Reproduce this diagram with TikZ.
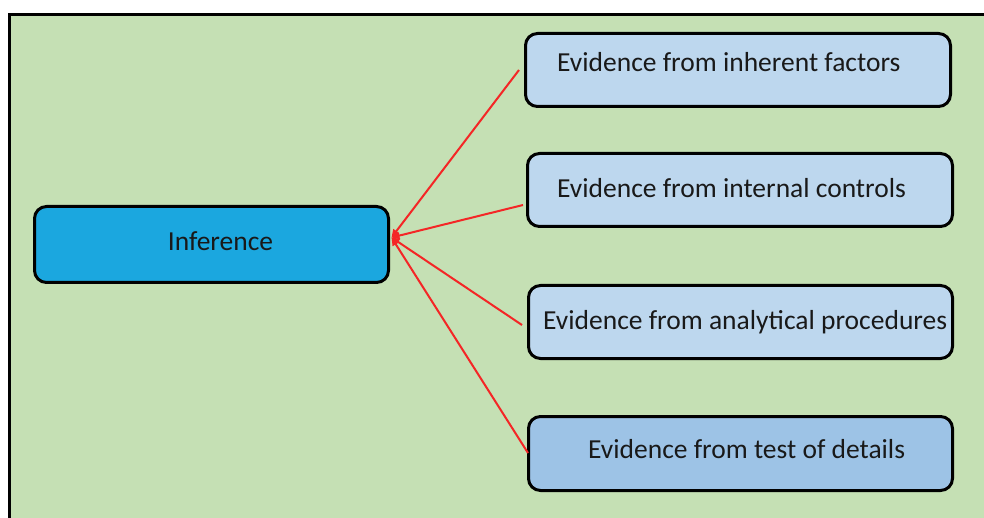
\documentclass[tikz,border=0pt]{standalone}
\usepackage{fontspec}
\setmainfont{Carlito}
\usetikzlibrary{arrows.meta}
\definecolor{panelgreen}{HTML}{C5E0B4}
\definecolor{hubblue}{HTML}{1BA7DF}
\definecolor{leafblue}{HTML}{BDD7EE}
\definecolor{leafdeep}{HTML}{9DC3E6}
\definecolor{linkred}{HTML}{F42626}
\tikzset{
  card/.style={draw=black, line width=3pt, rounded corners=12pt, inner sep=0pt},
  cardtext/.style={anchor=base west, inner sep=0pt, font=\fontsize{27.5}{32}\selectfont, text=black!90},
  link/.style={draw=linkred, line width=2pt, -{Triangle[length=8pt,width=7pt]}}
}
\begin{document}
\begin{tikzpicture}[x=1pt,y=-1pt]
  \useasboundingbox (0,0) rectangle (984,518);
  \fill[white] (0,0) rectangle (984,518);
  % framed green panel (open at the right and bottom)
  \fill[panelgreen] (9.5,14.5) rectangle (984,518);
  \draw[line width=3pt] (9.5,518) -- (9.5,14.5) -- (984,14.5);

  % central box
  \node[card, fill=hubblue, minimum width=354pt, minimum height=76pt] (inf) at (211.5,244.5) {};
  \node[cardtext, anchor=base] (tinf) at (220.5,250.5) {Inference};

  % evidence boxes
  \node[card, fill=leafblue, minimum width=425pt, minimum height=73pt] (b1) at (738,70) {};
  \node[card, fill=leafblue, minimum width=425pt, minimum height=73pt] (b2) at (740,190) {};
  \node[card, fill=leafblue, minimum width=424pt, minimum height=73pt] (b3) at (740.5,322) {};
  \node[card, fill=leafdeep, minimum width=424pt, minimum height=74pt] (b4) at (740.5,453.5) {};

  \node[cardtext] (t1) at (557,71.5) {Evidence from inherent factors};
  \node[cardtext] (t2) at (557,197.5) {Evidence from internal controls};
  \node[cardtext] (t3) at (543,329.5) {Evidence from analytical procedures};
  \node[cardtext] (t4) at (588,458.5) {Evidence from test of details};

  % connectors
  \coordinate (hub) at ([shift={(1.5,-7)}]inf.east);
  \coordinate (s1) at (519,70);
  \coordinate (s2) at (523,205);
  \coordinate (s3) at (522,325);
  \coordinate (s4) at (528,453);
  \foreach \s in {s1,s2,s3,s4}
    \draw[link] (\s) -- (hub);
\end{tikzpicture}
\end{document}
